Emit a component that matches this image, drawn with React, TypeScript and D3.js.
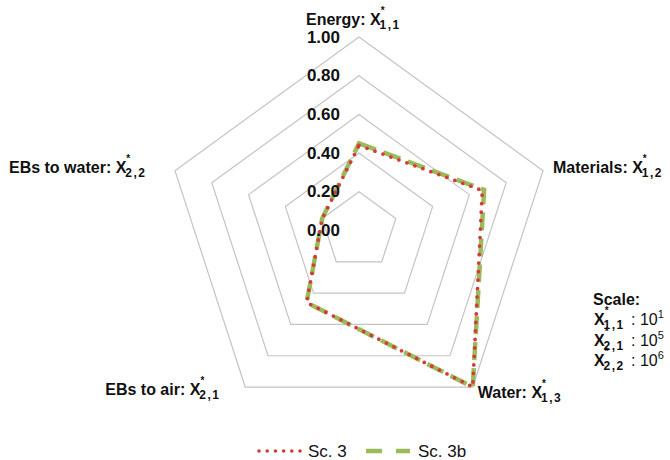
import React from 'react'
import * as d3 from 'd3'

// axes, clockwise from the top
const categories = ['Energy', 'Materials', 'Water', 'EBs to air', 'EBs to water']
const subscripts = ['1,1', '1,2', '1,3', '2,1', '2,2']
const ticks = [0, 0.2, 0.4, 0.6, 0.8, 1.0]

const sc3 = [0.44, 0.67, 1.0, 0.46, 0.2]
const sc3b = [0.45, 0.68, 1.0, 0.46, 0.2]

const scaleRows = [
    { sub: '1,1', exp: '1' },
    { sub: '2,1', exp: '5' },
    { sub: '2,2', exp: '6' },
]

const W = 670
const H = 460
const cx = 359
const cy = 230.5
const R = 193.5

const RED = '#d23a3c'
const GREEN = '#9bbb59'
const FONT = 'Liberation Sans, Arial, sans-serif'

// label placement per axis: offset from the outer vertex and anchor
const labelPos = [
    { dx: -53, dy: -12, anchor: 'start' },
    { dx: 10, dy: 2, anchor: 'start' },
    { dx: 5, dy: 11, anchor: 'start' },
    { dx: -140, dy: 8, anchor: 'start' },
    { dx: -166, dy: 2, anchor: 'start' },
]

const XLabel = ({ name, sub, x, y, anchor }) => (
    <text x={x} y={y} textAnchor={anchor} fontFamily={FONT} fontWeight="bold" fontSize={16} fill="#111">
        {name ? name + ': ' : ''}X
        <tspan fontSize={10} dy={-11}>*</tspan>
        <tspan fontSize={12} dx={-5} dy={15} letterSpacing={1.5}>{sub}</tspan>
    </text>
)

export default function App() {
    const r = d3.scaleLinear().domain([0, 1]).range([0, R])
    const angle = d3.scaleLinear().domain([0, categories.length]).range([0, 2 * Math.PI])

    const radial = d3.lineRadial<number>()
        .angle((d, i) => angle(i))
        .radius(d => r(d))
        .curve(d3.curveLinearClosed)

    const ring = v => radial(categories.map(() => v))

    const vertex = i => {
        const a = angle(i) - Math.PI / 2
        return [cx + R * Math.cos(a), cy + R * Math.sin(a)]
    }

    return (
        <svg width={W} height={H} style={{ position: 'absolute', left: 0, top: 0, background: '#fff' }}>
            <g transform={`translate(${cx},${cy})`}>
                {ticks.filter(t => t > 0).map(t => (
                    <path key={t} d={ring(t)} fill="none" stroke="#c4c4c4" strokeWidth={1.2} />
                ))}
                <path d={radial(sc3b)} fill="none" stroke={GREEN} strokeWidth={4.5}
                    strokeDasharray="18 8" />
                <path d={radial(sc3)} fill="none" stroke={RED} strokeWidth={3.8}
                    strokeLinecap="round" strokeDasharray="0 8.5" />
            </g>

            {ticks.map(t => (
                <text key={t} x={cx - 19} y={cy - r(t)} textAnchor="end" dominantBaseline="central"
                    fontFamily={FONT} fontWeight="bold" fontSize={17} fill="#111">
                    {d3.format('.2f')(t)}
                </text>
            ))}

            {categories.map((c, i) => {
                const [vx, vy] = vertex(i)
                const p = labelPos[i]
                return <XLabel key={c} name={c} sub={subscripts[i]} x={vx + p.dx} y={vy + p.dy} anchor={p.anchor} />
            })}

            {/* scale note */}
            <text x={593} y={305} fontFamily={FONT} fontWeight="bold" fontSize={16} fill="#111">Scale:</text>
            {scaleRows.map((s, i) => (
                <g key={s.sub}>
                    <XLabel name="" sub={s.sub} x={594} y={325 + i * 20.5} anchor="start" />
                    <text x={631} y={325 + i * 20.5} fontFamily={FONT} fontSize={16} fill="#111">
                        : 10<tspan fontSize={11} dy={-7}>{s.exp}</tspan>
                    </text>
                </g>
            ))}

            {/* legend */}
            <line x1={259} x2={300} y1={451} y2={451} stroke={RED} strokeWidth={3.6}
                strokeLinecap="round" strokeDasharray="0 8.2" />
            <text x={308} y={457} fontFamily={FONT} fontSize={17} fill="#111">Sc. 3</text>
            <line x1={366} x2={410} y1={451} y2={451} stroke={GREEN} strokeWidth={4.5}
                strokeDasharray="16 14" />
            <text x={418} y={457} fontFamily={FONT} fontSize={17} fill="#111">Sc. 3b</text>
        </svg>
    )
}
